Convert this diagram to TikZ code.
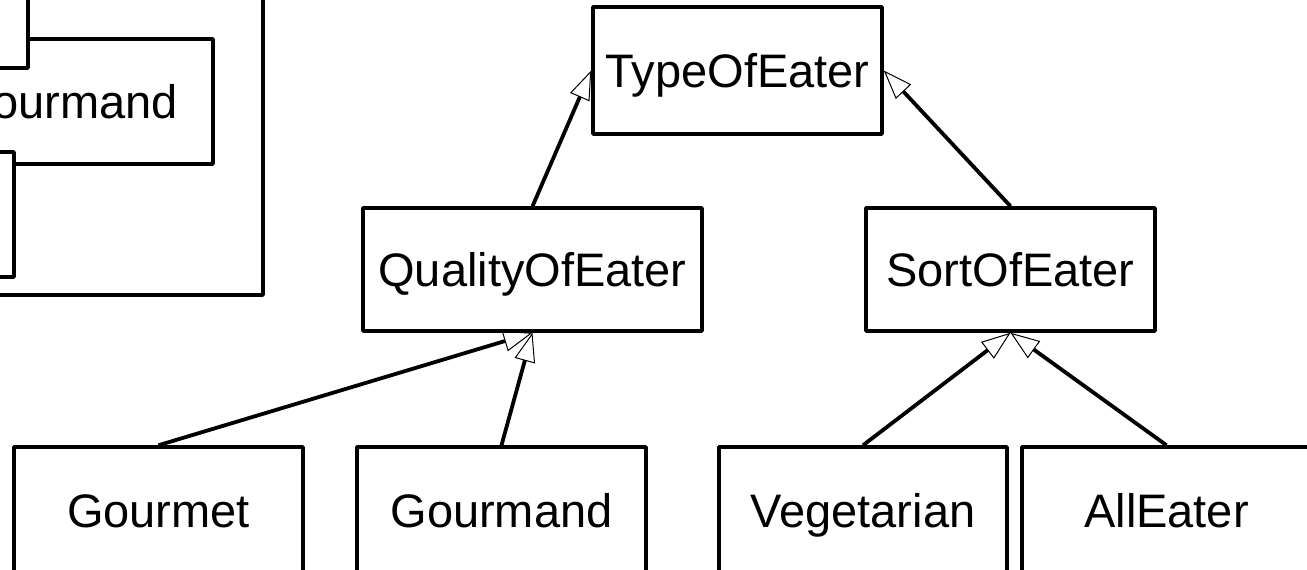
\documentclass[tikz,border=0pt]{standalone}
\usepackage{fontspec}
\setmainfont{Liberation Sans}
\usetikzlibrary{arrows.meta}
\begin{document}
\begin{tikzpicture}[x=1pt,y=-1pt,
  cls/.style={draw, line width=3.5pt, fill=white, rectangle, inner sep=0pt,
    minimum width=289pt, minimum height=127pt,
    font=\fontsize{47}{56}\selectfont, text height=33.6pt, text depth=0pt,
    line join=round},
  frame/.style={draw, line width=3.5pt, fill=white, line join=round},
  gen/.style={line width=3.8pt,
    -{Triangle[open, length=29pt, width=21pt, line width=1pt]}}]
\useasboundingbox (0,0) rectangle (1307,570);
\clip (0,0) rectangle (1307,570);
\fill[white] (0,0) rectangle (1307,570);

% partial frame at top left
\path[frame] (-20,-20) rectangle (263,295);
\node[cls, minimum width=292pt, minimum height=125pt] (tlg) at (67,101.5) {Gourmand};
\path[frame] (-20,-20) rectangle (28,68);
\path[frame] (-20,152) rectangle (14,277);

% class boxes
\node[cls] (type) at (737.5,70.5) {TypeOfEater};
\node[cls, minimum width=339pt, minimum height=123pt] (quality) at (532.5,269.5) {QualityOfEater};
\node[cls, minimum height=123pt] (sort) at (1010.5,269.5) {SortOfEater};
\node[cls] (gourmet) at (158.5,510.5) {Gourmet};
\node[cls] (gourmand) at (501.5,510.5) {Gourmand};
\node[cls, minimum width=288pt] (veg) at (863,510.5) {Vegetarian};
\node[cls] (alleater) at (1166.5,510.5) {AllEater};

% generalizations
\draw[gen] (quality.north) -- (type.west);
\draw[gen] (sort.north) -- (type.east);
\draw[gen] (gourmet.north) -- (quality.south);
\draw[gen] (gourmand.north) -- (quality.south);
\draw[gen] (veg.north) -- (sort.south);
\draw[gen] (alleater.north) -- (sort.south);
\end{tikzpicture}
\end{document}
